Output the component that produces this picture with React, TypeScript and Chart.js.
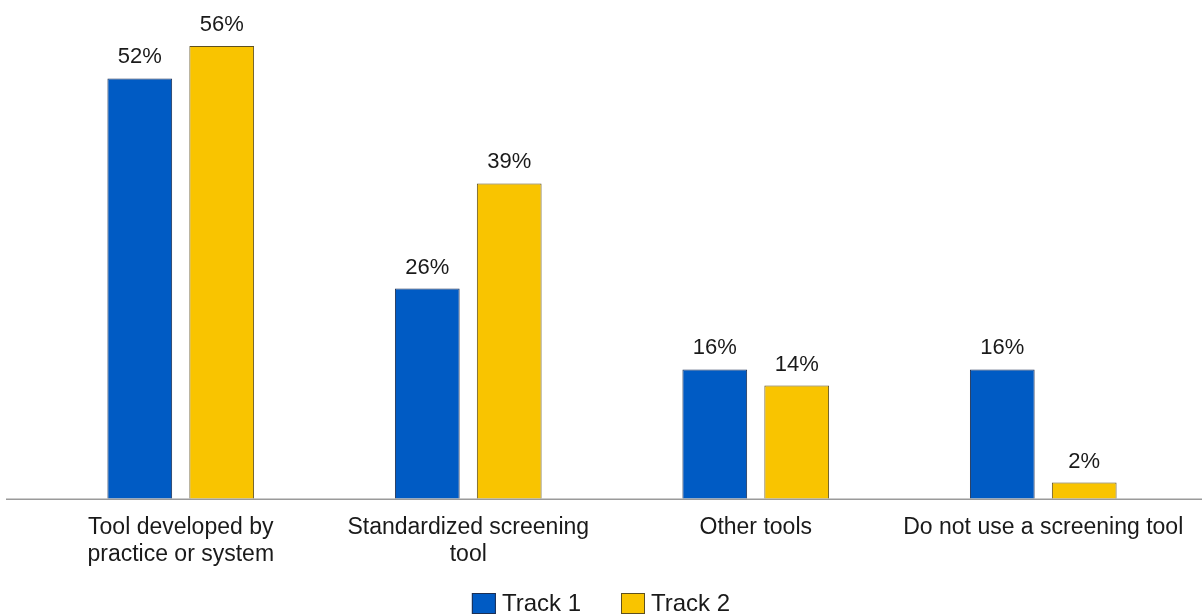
import React, { useEffect, useRef } from "react";
import { Chart, registerables } from "chart.js";

Chart.register(...registerables);

const categories: string[][] = [
  ["Tool developed by", "practice or system"],
  ["Standardized screening", "tool"],
  ["Other tools"],
  ["Do not use a screening tool"],
];
const track1: number[] = [52, 26, 16, 16];
const track2: number[] = [56, 39, 14, 2];
const seriesNames: string[] = ["Track 1", "Track 2"];

const FONT = "Arial, 'Liberation Sans', sans-serif";

const dataLabels = {
  id: "dataLabels",
  afterDatasetsDraw(chart: any) {
    const ctx = chart.ctx;
    ctx.save();
    ctx.font = `22px ${FONT}`;
    ctx.fillStyle = "#1a1a1a";
    ctx.textAlign = "center";
    ctx.textBaseline = "alphabetic";
    chart.data.datasets.forEach((ds: any, i: number) => {
      const meta = chart.getDatasetMeta(i);
      meta.data.forEach((bar: any, j: number) => {
        ctx.fillText(`${ds.data[j]}%`, bar.x, bar.y - 15);
      });
    });
    ctx.restore();
  },
};

const baseline = {
  id: "baseline",
  afterDatasetsDraw(chart: any) {
    const ctx = chart.ctx;
    const y = chart.chartArea.bottom + 0.5;
    ctx.save();
    ctx.strokeStyle = "#9a9a9a";
    ctx.lineWidth = 1.5;
    ctx.beginPath();
    ctx.moveTo(6, y);
    ctx.lineTo(chart.width, y);
    ctx.stroke();
    ctx.restore();
  },
};

const customLegend = {
  id: "customLegend",
  afterDraw(chart: any) {
    const ctx = chart.ctx;
    ctx.save();
    ctx.font = `24px ${FONT}`;
    const boxW = 24;
    const boxH = 21;
    const textGap = 6;
    const itemGap = 40;
    const items = chart.data.datasets.map((ds: any) => ({
      label: ds.label,
      fill: ds.backgroundColor,
      stroke: ds.borderColor,
      w: boxW + textGap + ctx.measureText(ds.label).width,
    }));
    const total =
      items.reduce((s: number, it: any) => s + it.w, 0) + itemGap * (items.length - 1);
    let x = chart.width / 2 - total / 2;
    const top = 593;
    items.forEach((it: any) => {
      ctx.fillStyle = it.fill;
      ctx.fillRect(x, top, boxW, boxH);
      ctx.strokeStyle = it.stroke;
      ctx.lineWidth = 1;
      ctx.strokeRect(x + 0.5, top + 0.5, boxW - 1, boxH - 1);
      ctx.fillStyle = "#1a1a1a";
      ctx.textAlign = "left";
      ctx.textBaseline = "middle";
      ctx.fillText(it.label, x + boxW + textGap, top + boxH / 2 + 1);
      x += it.w + itemGap;
    });
    ctx.restore();
  },
};

export default function App() {
  const ref = useRef<HTMLCanvasElement>(null);
  useEffect(() => {
    document.body.style.margin = "0";
    const chart = new Chart(ref.current!, {
      type: "bar",
      data: {
        labels: categories,
        datasets: [
          {
            label: seriesNames[0],
            data: track1,
            backgroundColor: "#005BC4",
            borderColor: "#1d2f52",
            borderWidth: 1,
            categoryPercentage: 0.57,
            barPercentage: 0.79,
          },
          {
            label: seriesNames[1],
            data: track2,
            backgroundColor: "#F9C400",
            borderColor: "#5e5020",
            borderWidth: 1,
            categoryPercentage: 0.57,
            barPercentage: 0.79,
          },
        ],
      },
      options: {
        animation: false,
        responsive: false,
        layout: { padding: { left: 37, right: 15, top: 0, bottom: 32 } },
        plugins: {
          tooltip: { enabled: false },
          legend: { display: false },
        },
        scales: {
          x: {
            grid: { display: false, drawTicks: false },
            border: { display: false },
            ticks: {
              maxRotation: 0,
              autoSkip: false,
              padding: 15,
              color: "#1a1a1a",
              font: { size: 23, family: FONT, lineHeight: 1.18 },
            },
          },
          y: {
            display: false,
            min: 0,
            max: 61.7,
          },
        },
      },
      plugins: [dataLabels, baseline, customLegend],
    });
    return () => chart.destroy();
  }, []);
  return <canvas ref={ref} width={1202} height={615} style={{ display: "block" }} />;
}
